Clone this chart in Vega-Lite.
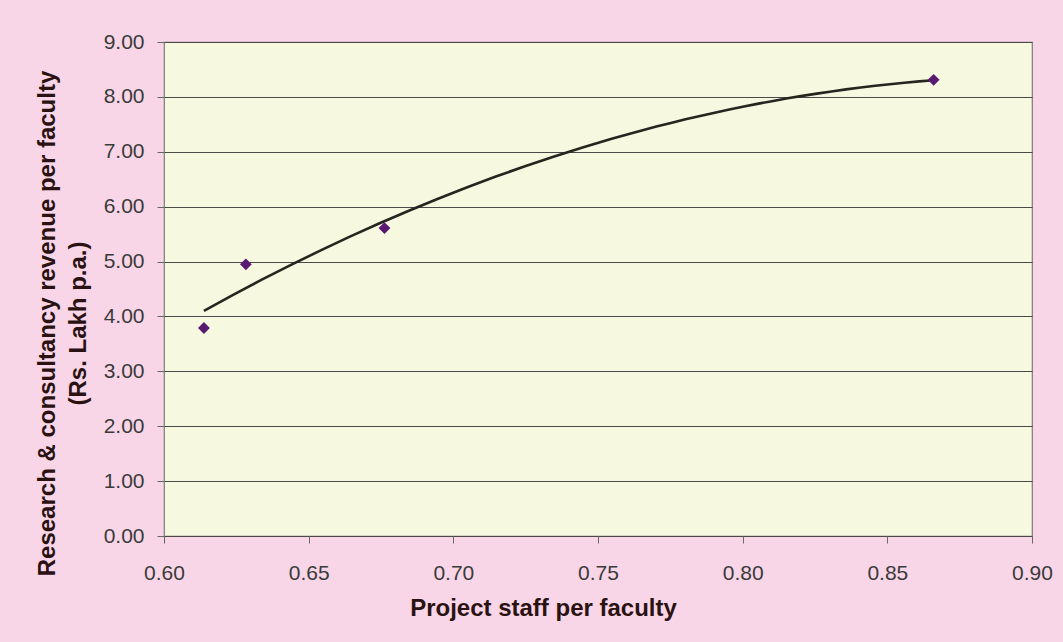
{
  "$schema": "https://vega.github.io/schema/vega-lite/v6.json",
  "autosize": {"type": "none"},
  "padding": {"left": 164, "top": 42, "right": 31, "bottom": 106},
  "width": 868,
  "height": 494,
  "background": "#F9D6E7",
  "config": {
    "font": "Liberation Sans",
    "view": {"fill": "#F6F9E0", "stroke": "#7a7a7a", "strokeWidth": 1.2}
  },
  "data": {
    "values": [
      {"staff": 0.6138, "revenue": 3.79},
      {"staff": 0.6283, "revenue": 4.95},
      {"staff": 0.6762, "revenue": 5.61},
      {"staff": 0.866, "revenue": 8.31}
    ]
  },
  "layer": [
    {
      "transform": [
        {"regression": "revenue", "on": "staff", "method": "poly", "order": 2}
      ],
      "mark": {"type": "line", "color": "#262620", "strokeWidth": 2.6},
      "encoding": {
        "x": {"field": "staff", "type": "quantitative"},
        "y": {"field": "revenue", "type": "quantitative"}
      }
    },
    {
      "mark": {"type": "point", "shape": "diamond", "filled": true, "color": "#5A1A72", "size": 140, "opacity": 1},
      "encoding": {
        "x": {
          "field": "staff",
          "type": "quantitative",
          "scale": {"domain": [0.6, 0.9], "nice": false, "zero": false},
          "axis": {
            "title": "Project staff per faculty",
            "values": [0.6, 0.65, 0.7, 0.75, 0.8, 0.85, 0.9],
            "format": ".2f",
            "grid": false,
            "domain": false,
            "tickSize": 7,
            "tickColor": "#666666",
            "labelFontSize": 21,
            "labelColor": "#3a3a3a",
            "labelPadding": 19,
            "labelFlush": false,
            "titleFontSize": 24,
            "titleFontWeight": "bold",
            "titleColor": "#2a1212",
            "titleX": 379,
            "titleY": 79,
            "titleBaseline": "alphabetic",
            "titleAlign": "center"
          }
        },
        "y": {
          "field": "revenue",
          "type": "quantitative",
          "scale": {"domain": [0, 9], "nice": false},
          "axis": {
            "title": ["Research & consultancy revenue per faculty", "(Rs. Lakh p.a.)"],
            "values": [0, 1, 2, 3, 4, 5, 6, 7, 8, 9],
            "format": ".2f",
            "grid": true,
            "gridColor": "#4a4a4a",
            "gridWidth": 1.1,
            "gridOpacity": 1,
            "domain": false,
            "tickSize": 7,
            "tickColor": "#666666",
            "labelFontSize": 21,
            "labelColor": "#3a3a3a",
            "labelPadding": 13,
            "labelFlush": false,
            "titleFontSize": 24,
            "titleFontWeight": "bold",
            "titleColor": "#2a1212",
            "titleLineHeight": 31,
            "titleBaseline": "middle",
            "titleAngle": -90,
            "titleAlign": "center",
            "titleX": -117,
            "titleY": 281
          }
        }
      }
    }
  ]
}
